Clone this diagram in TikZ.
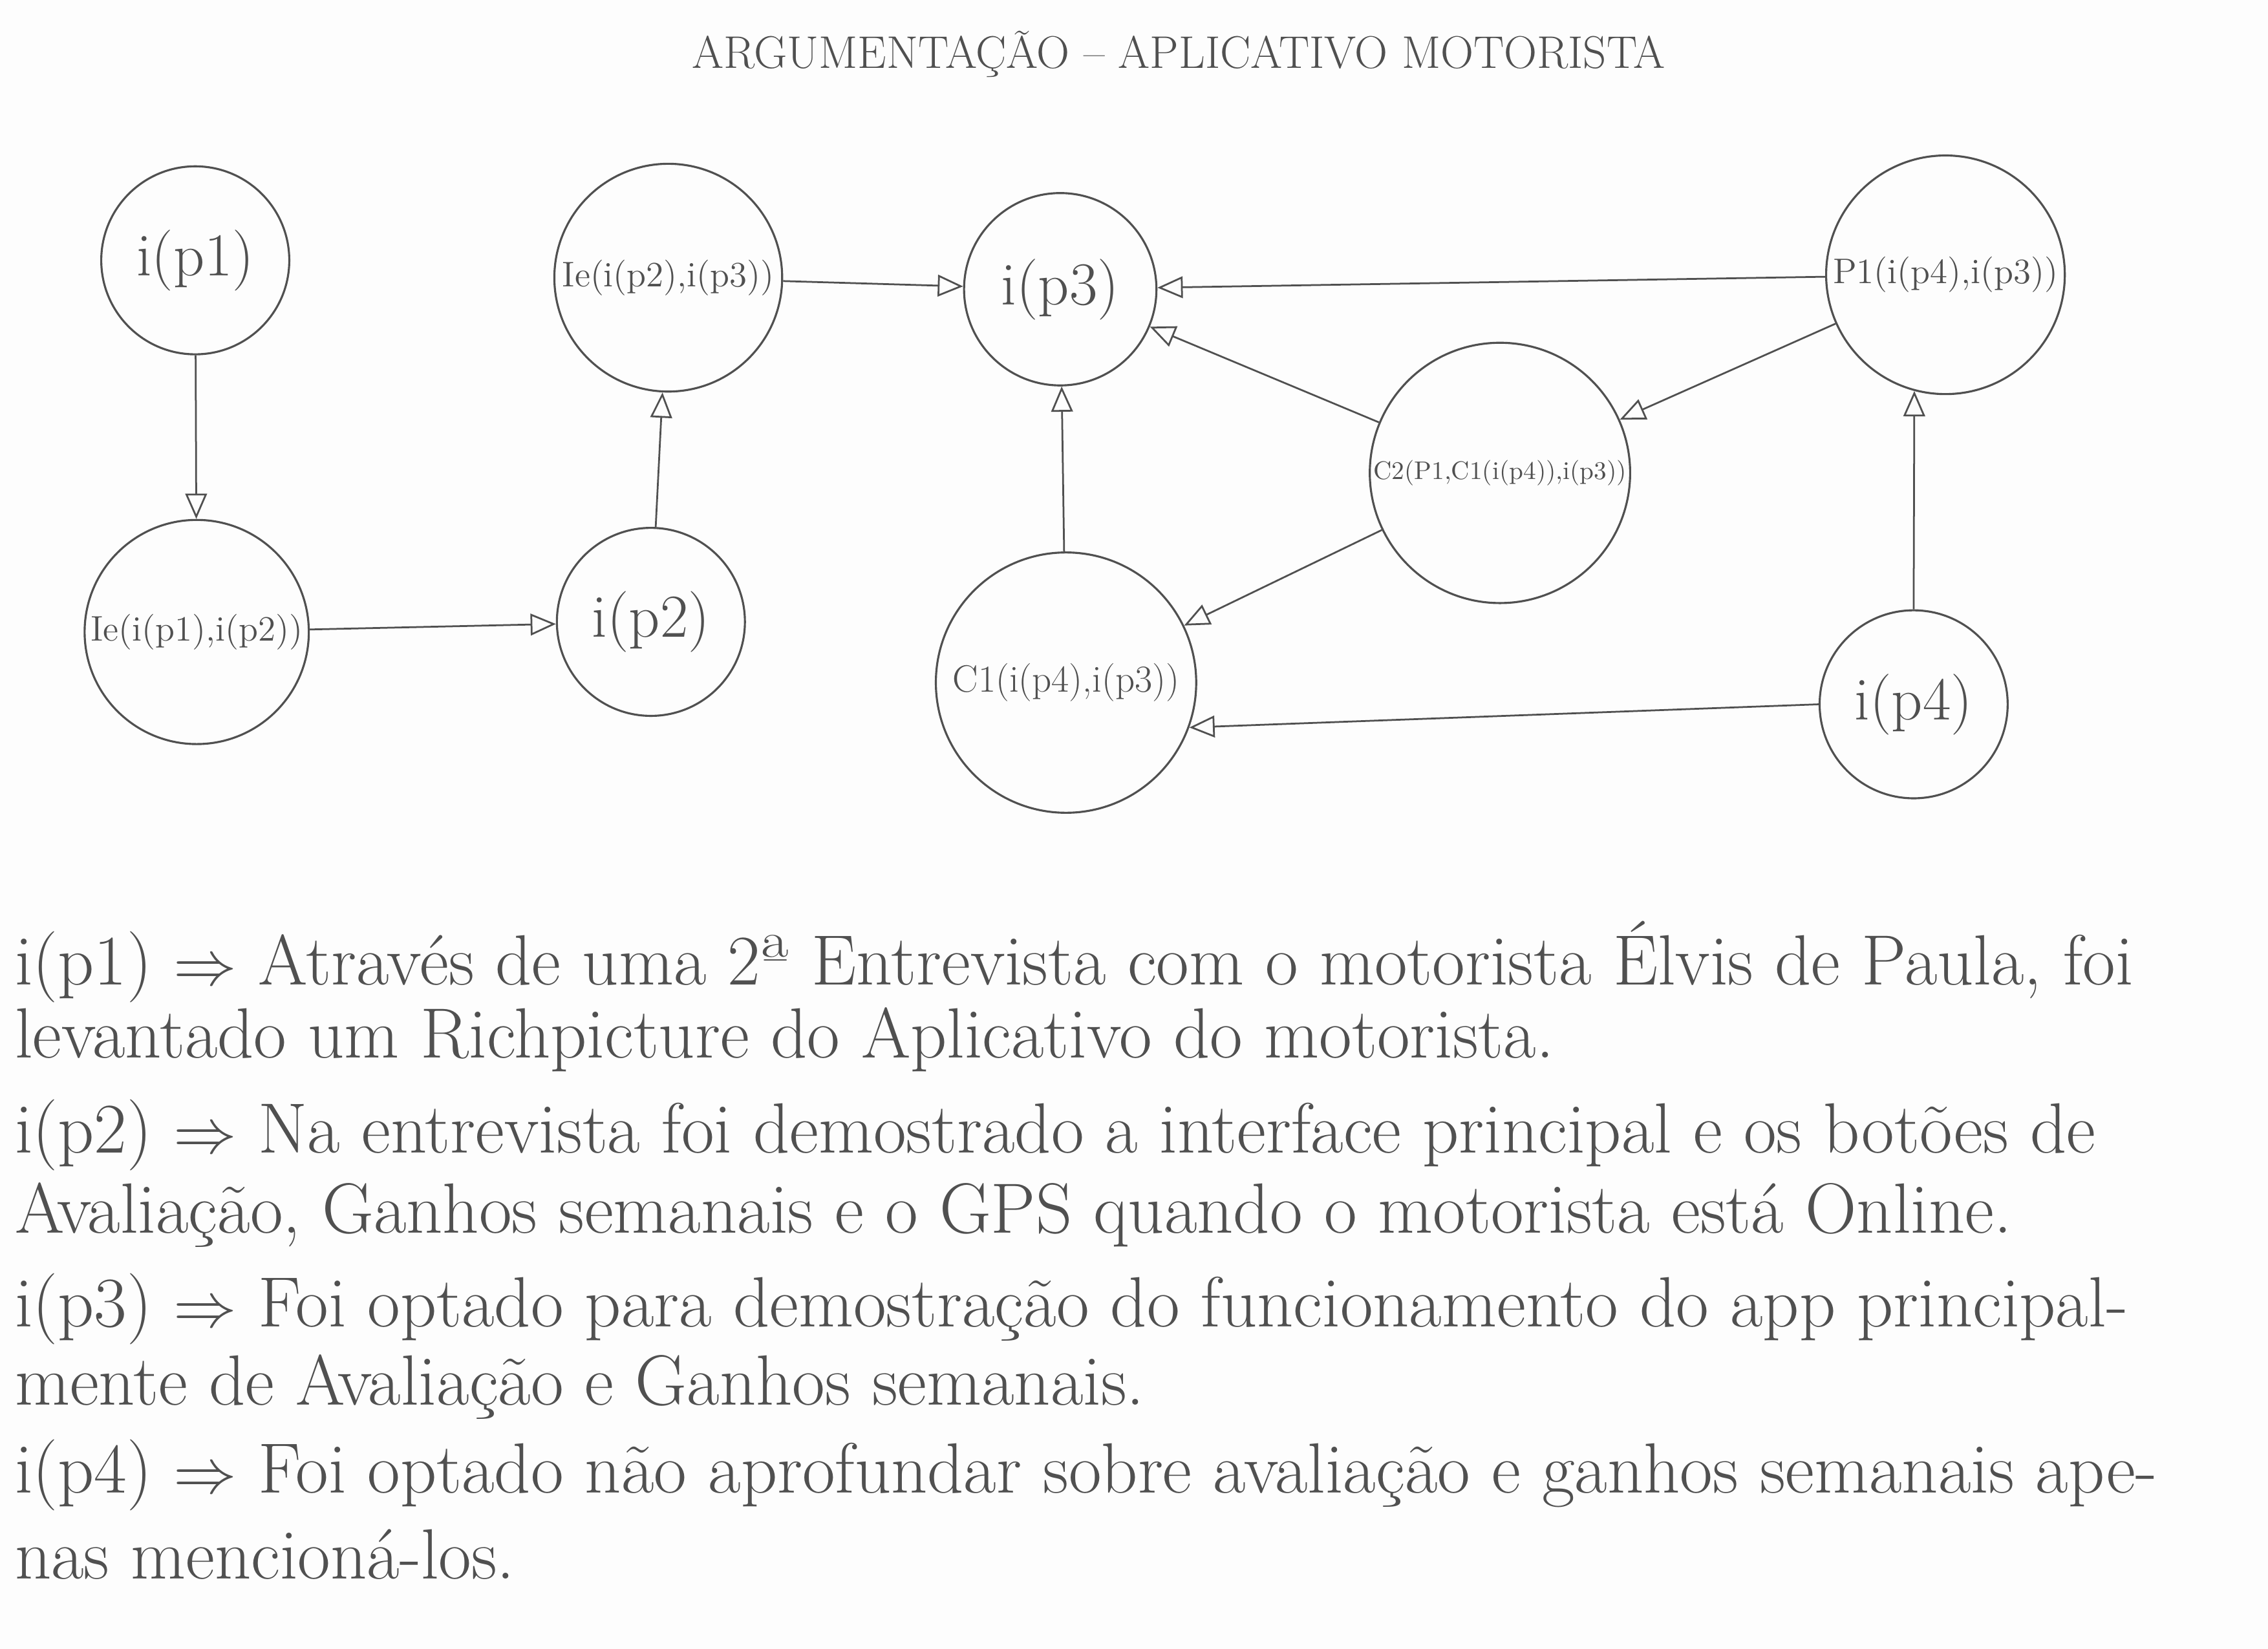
\documentclass[tikz,border=0pt]{standalone}
\usepackage{tikz}
\usetikzlibrary{arrows.meta, positioning}
\definecolor{pencil}{RGB}{80, 80, 80}
\definecolor{paper}{RGB}{253, 253, 253}

\begin{document}
\begin{tikzpicture}[
        arg/.style={circle, draw=pencil, line width=0.8pt, inner sep=0pt, text=pencil, align=center},
        link/.style={-{Triangle[open, length=3.5mm, width=3mm]}, draw=pencil, line width=0.7pt},
        note/.style={anchor=west, text=pencil, font=\fontsize{28}{31}\selectfont, inner sep=0pt}
    ]
        \fill[paper] (0,0) rectangle (31.36,-22.8);
        \useasboundingbox (0,0) rectangle (31.36,-22.8);

        % Title
        \node[text=pencil, font=\fontsize{18}{21}\selectfont] (title) at (16.3,-0.75) {ARGUMENTAÇÃO -- APLICATIVO MOTORISTA};

        % Issues and relations
        \node[arg, minimum size=2.6cm, font=\fontsize{24}{28}\selectfont] (ip1) at (2.7,-3.6) {i(p1)};
        \node[arg, minimum size=3.1cm, font=\fontsize{14}{16}\selectfont] (iep1) at (2.72,-8.74) {Ie(i(p1),i(p2))};
        \node[arg, minimum size=2.6cm, font=\fontsize{24}{28}\selectfont] (ip2) at (9.0,-8.6) {i(p2)};
        \node[arg, minimum size=3.15cm, font=\fontsize{14}{16}\selectfont] (iep2) at (9.24,-3.84) {Ie(i(p2),i(p3))};
        \node[arg, minimum size=2.66cm, font=\fontsize{24}{28}\selectfont] (ip3) at (14.66,-4.0) {i(p3)};
        \node[arg, minimum size=3.6cm, font=\fontsize{15}{18}\selectfont] (con1) at (14.74,-9.44) {C1(i(p4),i(p3))};
        \node[arg, minimum size=3.6cm, font=\fontsize{10}{12}\selectfont] (con2) at (20.74,-6.54) {C2(P1,C1(i(p4)),i(p3))};
        \node[arg, minimum size=3.3cm, font=\fontsize{14}{16}\selectfont] (pro1) at (26.9,-3.8) {P1(i(p4),i(p3))};
        \node[arg, minimum size=2.6cm, font=\fontsize{24}{28}\selectfont] (ip4) at (26.46,-9.74) {i(p4)};

        % Connectors
        \draw[link] (ip1) -- (iep1);
        \draw[link] (iep1) -- (ip2);
        \draw[link] (ip2) -- (iep2);
        \draw[link] (iep2) -- (ip3);
        \draw[link] (pro1) -- (ip3);
        \draw[link] (con2) -- (ip3);
        \draw[link] (pro1) -- (con2);
        \draw[link] (con2) -- (con1);
        \draw[link] (con1) -- (ip3);
        \draw[link] (ip4.west) -- (con1.-20);
        \draw[link] (ip4.north) -- (pro1.-105);

        % Notes
        \node[note] (n1) at (0.2,-13.3) {i(p1) $\Rightarrow$ Através de uma 2ª Entrevista com o motorista Élvis de Paula, foi};
        \node[note] (n2) at (0.2,-14.38) {levantado um Richpicture do Aplicativo do motorista.};
        \node[note] (n3) at (0.2,-15.7) {i(p2) $\Rightarrow$ Na entrevista foi demostrado a interface principal e os botões de};
        \node[note] (n4) at (0.2,-16.8) {Avaliação, Ganhos semanais e o GPS quando o motorista está Online.};
        \node[note] (n5) at (0.2,-18.1) {i(p3) $\Rightarrow$ Foi optado para demostração do funcionamento do app principal-};
        \node[note] (n6) at (0.2,-19.18) {mente de Avaliação e Ganhos semanais.};
        \node[note] (n7) at (0.2,-20.4) {i(p4) $\Rightarrow$ Foi optado não aprofundar sobre avaliação e ganhos semanais ape-};
        \node[note] (n8) at (0.2,-21.5) {nas mencioná-los.};
    \end{tikzpicture}
\end{document}
